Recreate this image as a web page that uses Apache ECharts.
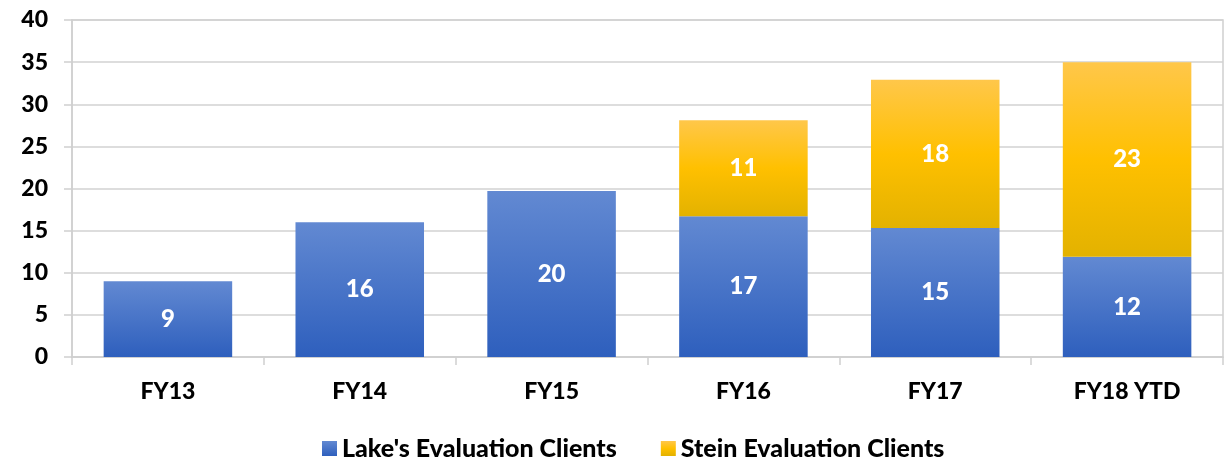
<!DOCTYPE html>
<html>
<head>
<meta charset="utf-8">
<script src="https://cdn.jsdelivr.net/npm/echarts@6/dist/echarts.min.js"></script>
<style>
  html, body { margin: 0; padding: 0; background: #fff; }
  #chart { width: 1230px; height: 458px; }
</style>
</head>
<body>
<div id="chart"></div>
<script>
// values; labels show them rounded
const categories = ['FY13', 'FY14', 'FY15', 'FY16', 'FY17', 'FY18 YTD']
const lakeClients = [9, 16, 19.7, 16.7, 15.3, 11.9]
const steinClients = [null, null, null, 11.4, 17.6, 23.1]
const seriesNames = ["Lake's Evaluation Clients", 'Stein Evaluation Clients']

const font = 'Lato, "Open Sans", sans-serif'

const blueFill = new echarts.graphic.LinearGradient(0, 0, 0, 1, [
  { offset: 0, color: '#6289d2' },
  { offset: 1, color: '#2e5fbd' }
])
const goldFill = new echarts.graphic.LinearGradient(0, 0, 0, 1, [
  { offset: 0, color: '#ffc74a' },
  { offset: 0.5, color: '#ffc000' },
  { offset: 1, color: '#e3b200' }
])

const label = {
  show: true,
  position: 'inside',
  color: '#fff',
  fontFamily: font,
  fontWeight: 900,
  fontSize: 24,
  formatter: p => (p.value == null ? '' : Math.round(p.value))
}

const chart = echarts.init(document.getElementById('chart'))
chart.setOption({
  animation: false,
  grid: {
    left: 72,
    right: 7,
    top: 20,
    bottom: 101,
    show: true,
    borderColor: '#cfcfcf',
    borderWidth: 1.5
  },
  legend: {
    top: 431,
    left: 317,
    itemWidth: 15,
    itemHeight: 15,
    itemGap: 44,
    icon: 'rect',
    textStyle: { fontFamily: font, fontWeight: 900, fontSize: 25, color: '#000' },
    data: seriesNames
  },
  xAxis: {
    type: 'category',
    data: categories,
    axisLine: { lineStyle: { color: '#cfcfcf', width: 1.5 } },
    axisTick: { show: true, length: 8, lineStyle: { color: '#cfcfcf', width: 1.5 } },
    axisLabel: { margin: 23, color: '#000', fontFamily: font, fontWeight: 900, fontSize: 23 }
  },
  yAxis: {
    type: 'value',
    min: 0,
    max: 40,
    interval: 5,
    axisLine: { show: true, lineStyle: { color: '#cfcfcf', width: 1.5 } },
    axisTick: { show: true, length: 8, lineStyle: { color: '#cfcfcf', width: 1.5 } },
    splitLine: { lineStyle: { color: '#d2d2d2', width: 1.5 } },
    axisLabel: { margin: 24, color: '#000', fontFamily: font, fontWeight: 900, fontSize: 23 }
  },
  series: [
    {
      name: seriesNames[0],
      type: 'bar',
      stack: 'clients',
      data: lakeClients,
      barCategoryGap: '33%',
      itemStyle: { color: blueFill },
      label: label
    },
    {
      name: seriesNames[1],
      type: 'bar',
      stack: 'clients',
      data: steinClients,
      barCategoryGap: '33%',
      itemStyle: { color: goldFill },
      label: label
    }
  ]
})
</script>
</body>
</html>
